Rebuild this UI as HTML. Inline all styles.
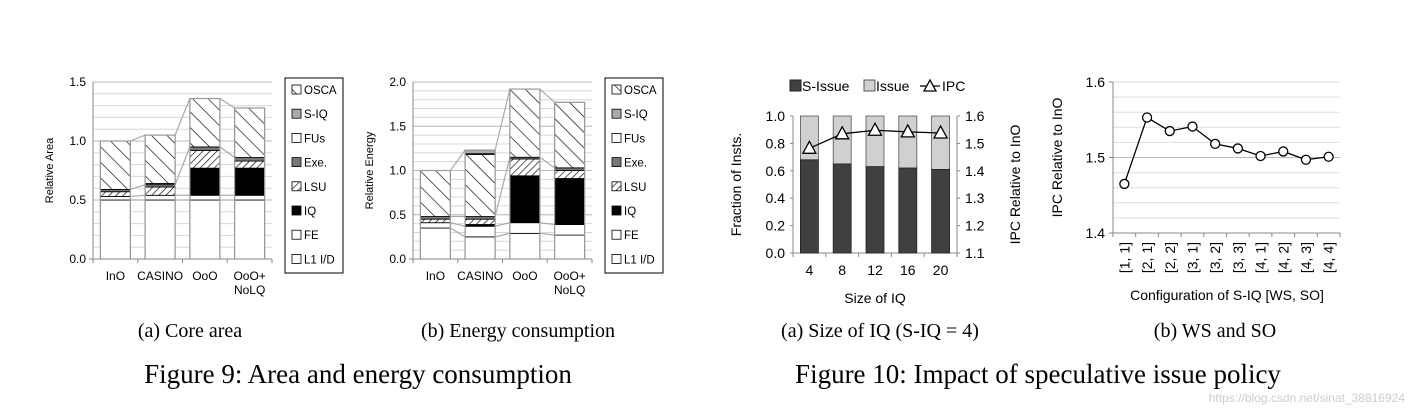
<!DOCTYPE html>
<html><head><meta charset="utf-8"><style>
html,body{margin:0;padding:0;background:#fff}
svg{display:block}
.s{font-family:"Liberation Sans","DejaVu Sans",sans-serif}
.r{font-family:"Liberation Serif",serif}
</style></head><body>
<svg id="c" width="1416" height="414" viewBox="0 0 1416 414" xmlns="http://www.w3.org/2000/svg">
<defs>
<pattern id="pOsca" patternUnits="userSpaceOnUse" width="11" height="11" patternTransform="rotate(-45)"><rect width="11" height="11" fill="#fff"/><line x1="0" y1="0" x2="0" y2="11" stroke="#000" stroke-width="1.3"/></pattern>
<pattern id="pLsu" patternUnits="userSpaceOnUse" width="5" height="5" patternTransform="rotate(45)"><rect width="5" height="5" fill="#fff"/><line x1="0" y1="0" x2="0" y2="5" stroke="#000" stroke-width="1.3"/></pattern>
</defs>
<text class="r" x="190" y="337" font-size="20" text-anchor="middle">(a) Core area</text>
<text class="r" x="518" y="337" font-size="20" text-anchor="middle">(b) Energy consumption</text>
<text class="r" x="358" y="383" font-size="27" text-anchor="middle">Figure 9: Area and energy consumption</text>
<text class="r" x="880" y="337" font-size="20" text-anchor="middle">(a) Size of IQ (S-IQ = 4)</text>
<text class="r" x="1215" y="337" font-size="20" text-anchor="middle">(b) WS and SO</text>
<text class="r" x="1038" y="383" font-size="27" text-anchor="middle">Figure 10: Impact of speculative issue policy</text>
<text class="s" x="1405" y="402" font-size="12" fill="#ccc" text-anchor="end">https://blog.csdn.net/sinat_38816924</text>
</svg>
<script>
const svgNS="http://www.w3.org/2000/svg";
const C=document.getElementById('c');
function mk(t,a,p){const e=document.createElementNS(svgNS,t);for(const k in a)e.setAttribute(k,a[k]);(p||C).appendChild(e);return e;}

// ---- Figure 9 data ----
const stackCats=["InO","CASINO","OoO","OoO+\nNoLQ"];
const compNames=["L1 I/D","FE","IQ","LSU","Exe.","FUs","S-IQ","OSCA"];
// area: cumulative tops in order L1,FE,IQ,LSU,Exe,FUs,S-IQ,OSCA
const areaTops=[
 [0.50,0.53,0.53,0.57,0.59,0.59,0.59,1.00],
 [0.50,0.54,0.54,0.61,0.63,0.63,0.64,1.05],
 [0.50,0.54,0.77,0.92,0.95,0.95,0.95,1.36],
 [0.50,0.54,0.77,0.83,0.86,0.86,0.86,1.28]];
// energy: cumulative tops in order L1,FE,IQ,LSU,Exe,OSCA,FUs,S-IQ
const energyTops=[
 [0.35,0.41,0.41,0.45,0.48,1.00,1.00,1.00],
 [0.25,0.37,0.39,0.45,0.48,1.18,1.19,1.23],
 [0.29,0.41,0.94,1.13,1.15,1.92,1.92,1.92],
 [0.27,0.39,0.91,1.00,1.03,1.77,1.77,1.77]];
const areaTicks=["0.0","0.5","1.0","1.5"];
const energyTicks=["0.0","0.5","1.0","1.5","2.0"];
const compFill=["#fff","#fff","#000","url(#pLsu)","#777","#fff","#aaa","url(#pOsca)"];
const areaOrder=[0,1,2,3,4,5,6,7];
const energyOrder=[0,1,2,3,4,7,5,6];

function stacked(x0,x1,yTop,yBot,ymax,tops,order,ticks,ylabel,name,legX){
  const g=mk('g',{});
  
  
  const Y=v=>yBot-(v/ymax)*(yBot-yTop);
  for(let v=0.1;v<=ymax+1e-6;v+=0.1){mk('line',{x1:x0,x2:x1,y1:Y(v),y2:Y(v),stroke:'#d8d8d8','stroke-width':1},g);}
  for(let v=0.5;v<=ymax+1e-6;v+=0.5){mk('line',{x1:x0,x2:x1,y1:Y(v),y2:Y(v),stroke:'#bbb','stroke-width':1},g);}
  mk('line',{x1:x0,x2:x0,y1:yTop,y2:yBot,stroke:'#888'},g);
  mk('line',{x1:x0-4,x2:x1,y1:yBot,y2:yBot,stroke:'#888'},g);
  ticks.forEach((t,i)=>{const v=i*0.5;
    const tx=mk('text',{x:x0-7,y:Y(v)+4,'font-size':12,'text-anchor':'end',class:'s'},g);tx.textContent=t;
    });
  const yl=mk('text',{transform:`translate(${x0-40},${(yTop+yBot)/2}) rotate(-90)`,'font-size':11,'text-anchor':'middle',class:'s'},g);yl.textContent=ylabel;
  
  const n=stackCats.length, step=(x1-x0)/n, bw=30;
  for(let i=0;i<=n;i++)mk('line',{x1:x0+i*step,x2:x0+i*step,y1:yBot,y2:yBot+4,stroke:'#888'},g);
  tops.forEach((arr,i)=>{const bx=x0+step*i+(step-bw)/2;let prev=0;
    arr.forEach((t,k)=>{if(t-prev>0.0001){const r=mk('rect',{x:bx,y:Y(t),width:bw,height:Y(prev)-Y(t),fill:compFill[order[k]],stroke:'#000','stroke-width':0.8},g);
      }prev=t;});
    mk('rect',{x:bx,y:Y(arr[arr.length-1]),width:bw,height:Y(0)-Y(arr[arr.length-1]),fill:'none',stroke:'#999','stroke-width':1.2},g);
    stackCats[i].split('\n').forEach((s,j)=>{const t=mk('text',{x:bx+bw/2,y:yBot+21+j*14,'font-size':12,'text-anchor':'middle',class:'s'},g);t.textContent=s;
      });
    if(i<n-1){const nx=x0+step*(i+1)+(step-bw)/2;const nxt=tops[i+1];
      [0,1,4,7].forEach(k=>{mk('line',{x1:bx+bw,y1:Y(arr[k]),x2:nx,y2:Y(nxt[k]),stroke:'#aaa','stroke-width':1.2},g);});}
  });
  const lg=mk('g',{},g);
  mk('rect',{x:legX,y:78,width:58,height:195,fill:'#fff',stroke:'#000','stroke-width':1},lg);
  [7,6,5,4,3,2,1,0].forEach((k,j)=>{const yy=90+j*24.2;
    const e=mk('g',{},lg);
    mk('rect',{x:legX+7,y:yy-5,width:9,height:9,fill:compFill[k],stroke:'#000','stroke-width':0.8},e);
    const t=mk('text',{x:legX+19,y:yy+4,'font-size':11.5,class:'s'},e);t.textContent=compNames[k];});
}
stacked(93,272,82,259,1.5,areaTops,areaOrder,areaTicks,'Relative Area','area-chart',285);
stacked(413,592,82,259,2.0,energyTops,energyOrder,energyTicks,'Relative Energy','energy-chart',605);

// ---- Figure 10a ----
const iqSizes=["4","8","12","16","20"];
const sIssue=[0.68,0.65,0.63,0.62,0.61];
const ipcIQ=[1.482,1.535,1.548,1.542,1.538];
const fracTicks=["0.0","0.2","0.4","0.6","0.8","1.0"];
const ipcTicks=["1.1","1.2","1.3","1.4","1.5","1.6"];
(function(){
  const g=mk('g',{});
  const x0=793,x1=957,yT=116,yB=253;
  const Y=v=>yB-v*(yB-yT), Y2=v=>yB-(v-1.1)/0.5*(yB-yT);
  const step=(x1-x0)/iqSizes.length,bw=18;
  mk('line',{x1:x0,x2:x0,y1:yT,y2:yB,stroke:'#888'},g);
  mk('line',{x1:x1,x2:x1,y1:yT,y2:yB,stroke:'#888'},g);
  mk('line',{x1:x0-3,x2:x1+3,y1:yB,y2:yB,stroke:'#888'},g);
  fracTicks.forEach((t,i)=>{const v=i*0.2;mk('line',{x1:x0-3,x2:x0,y1:Y(v),y2:Y(v),stroke:'#888'},g);
    const tx=mk('text',{x:x0-8,y:Y(v)+5,'font-size':14,'text-anchor':'end',class:'s'},g);tx.textContent=t;
    });
  ipcTicks.forEach((t,i)=>{const v=1.1+i*0.1;mk('line',{x1:x1,x2:x1+3,y1:Y2(v),y2:Y2(v),stroke:'#888'},g);
    const tx=mk('text',{x:x1+8,y:Y2(v)+5,'font-size':14,class:'s'},g);tx.textContent=t;
    });
  for(let i=0;i<=iqSizes.length;i++)mk('line',{x1:x0+i*step,x2:x0+i*step,y1:yB,y2:yB+4,stroke:'#888'},g);
  const pts=[];
  iqSizes.forEach((s,i)=>{const cx=x0+step*(i+0.5);
    const a=mk('rect',{x:cx-bw/2,y:Y(1),width:bw,height:Y(sIssue[i])-Y(1),fill:'#d0d0d0',stroke:'#555','stroke-width':0.8},g);
    
    const b=mk('rect',{x:cx-bw/2,y:Y(sIssue[i]),width:bw,height:yB-Y(sIssue[i]),fill:'#404040',stroke:'#222','stroke-width':0.8},g);
    
    const t=mk('text',{x:cx,y:yB+22,'font-size':14,'text-anchor':'middle',class:'s'},g);t.textContent=s;
    
    pts.push([cx,Y2(ipcIQ[i])]);});
  mk('polyline',{points:pts.map(p=>p.join(',')).join(' '),fill:'none',stroke:'#000','stroke-width':1.3},g);
  pts.forEach(p=>{const m=mk('polygon',{points:`${p[0]},${p[1]-7} ${p[0]-6.5},${p[1]+5} ${p[0]+6.5},${p[1]+5}`,fill:'#fff',stroke:'#000','stroke-width':1.3},g);
    });
  const xl=mk('text',{x:(x0+x1)/2,y:303,'font-size':14,'text-anchor':'middle',class:'s'},g);xl.textContent='Size of IQ';
  
  const yl=mk('text',{transform:`translate(741,${(yT+yB)/2}) rotate(-90)`,'font-size':14,'text-anchor':'middle',class:'s'},g);yl.textContent='Fraction of Insts.';
  
  const yr=mk('text',{transform:`translate(1020,${(yT+yB)/2}) rotate(-90)`,'font-size':14,'text-anchor':'middle',class:'s'},g);yr.textContent='IPC Relative to InO';
  
  const lg=mk('g',{},g);
  mk('rect',{x:790,y:80,width:11,height:11,fill:'#404040',stroke:'#222'},lg);
  let t=mk('text',{x:802,y:91,'font-size':14,class:'s'},lg);t.textContent='S-Issue';
  mk('rect',{x:864,y:80,width:11,height:11,fill:'#d0d0d0',stroke:'#555'},lg);
  t=mk('text',{x:876,y:91,'font-size':14,class:'s'},lg);t.textContent='Issue';
  mk('line',{x1:920,x2:940,y1:86,y2:86,stroke:'#000','stroke-width':1.3},lg);
  mk('polygon',{points:'930,80 924,91 936,91',fill:'#fff',stroke:'#000','stroke-width':1.3},lg);
  t=mk('text',{x:942,y:91,'font-size':14,class:'s'},lg);t.textContent='IPC';
})();

// ---- Figure 10b ----
const cfgs=["[1, 1]","[2, 1]","[2, 2]","[3, 1]","[3, 2]","[3, 3]","[4, 1]","[4, 2]","[4, 3]","[4, 4]"];
const ipcCfg=[1.465,1.553,1.535,1.541,1.518,1.512,1.502,1.508,1.497,1.501];
const cfgTicks=["1.4","1.5","1.6"];
(function(){
  const g=mk('g',{});
  const x0=1113,x1=1340,yT=82,yB=233;
  const Y=v=>yB-(v-1.4)/0.2*(yB-yT);
  for(let i=1;i<10;i++){const v=1.4+i*0.02;mk('line',{x1:x0,x2:x1,y1:Y(v),y2:Y(v),stroke:i==5?'#bbb':'#ddd'},g);}
  mk('line',{x1:x0,x2:x1,y1:yT,y2:yT,stroke:'#ddd'},g);
  mk('line',{x1:x0,x2:x0,y1:yT,y2:yB,stroke:'#888'},g);
  mk('line',{x1:x0,x2:x1,y1:yB,y2:yB,stroke:'#888'},g);
  cfgTicks.forEach((t,i)=>{const v=1.4+i*0.1;mk('line',{x1:x0-4,x2:x0,y1:Y(v),y2:Y(v),stroke:'#888'},g);
    const tx=mk('text',{x:x0-8,y:Y(v)+5,'font-size':14,'text-anchor':'end',class:'s'},g);tx.textContent=t;
    });
  const step=(x1-x0)/cfgs.length;
  for(let i=0;i<=cfgs.length;i++)mk('line',{x1:x0+i*step,x2:x0+i*step,y1:yB,y2:yB+4,stroke:'#888'},g);
  const pts=cfgs.map((c,i)=>[x0+step*(i+0.5),Y(ipcCfg[i])]);
  cfgs.forEach((c,i)=>{const cx=x0+step*(i+0.5);
    const t=mk('text',{transform:`translate(${cx+5},${yB+9}) rotate(-90)`,'font-size':14,'text-anchor':'end',class:'s'},g);t.textContent=c;
    });
  mk('polyline',{points:pts.map(p=>p.join(',')).join(' '),fill:'none',stroke:'#000','stroke-width':1.3},g);
  pts.forEach(p=>{const m=mk('circle',{cx:p[0],cy:p[1],r:4.5,fill:'#fff',stroke:'#000','stroke-width':1.3},g);
    });
  const xl=mk('text',{x:1227,y:300,'font-size':14,'text-anchor':'middle',class:'s'},g);xl.textContent='Configuration of S-IQ [WS, SO]';
  
  const yl=mk('text',{transform:`translate(1062,${(yT+yB)/2}) rotate(-90)`,'font-size':14,'text-anchor':'middle',class:'s'},g);yl.textContent='IPC Relative to InO';
  
})();
</script>
</body></html>
